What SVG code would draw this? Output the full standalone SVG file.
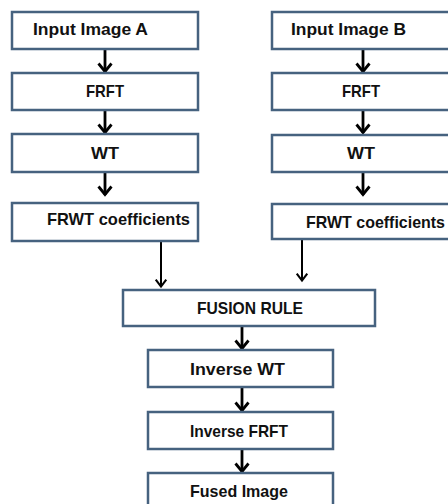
<svg xmlns="http://www.w3.org/2000/svg" width="448" height="504" viewBox="0 0 448 504">
<defs>
<style>
.box{fill:#ffffff;stroke:#46627f;stroke-width:2.5}
.t{font-family:"Liberation Sans",Arial,sans-serif;font-weight:bold;font-size:17px;fill:#111111}
.c{text-anchor:middle}
.a{stroke:#000000;stroke-width:2.8;fill:none}
.l{stroke:#000000;stroke-width:2;fill:none}
</style>
<marker id="h" viewBox="0 0 12 16" refX="10.5" refY="8" markerWidth="12" markerHeight="16" markerUnits="userSpaceOnUse" orient="auto">
<path d="M2,1.5 L10,8 L2,14.5" fill="none" stroke="#000" stroke-width="2.8"/>
</marker>
<marker id="h2" viewBox="0 0 12 16" refX="10.5" refY="8" markerWidth="11" markerHeight="14" markerUnits="userSpaceOnUse" orient="auto">
<path d="M2,2 L10,8 L2,14" fill="none" stroke="#000" stroke-width="2.4"/>
</marker>
</defs>
<rect width="448" height="504" fill="#ffffff"/>
<g id="connectors">
<path class="a" d="M105,49 V72" marker-end="url(#h)"/>
<path class="a" d="M105,110 V133" marker-end="url(#h)"/>
<path class="a" d="M105,172 V195" marker-end="url(#h)"/>
<path class="a" d="M363,49 V72" marker-end="url(#h)"/>
<path class="a" d="M363,110 V133" marker-end="url(#h)"/>
<path class="a" d="M363,172 V195" marker-end="url(#h)"/>
<path class="l" d="M161,241 V287" marker-end="url(#h2)"/>
<path class="l" d="M302,239 V281" marker-end="url(#h2)"/>
<path class="a" d="M242,326 V349" marker-end="url(#h)"/>
<path class="a" d="M242,387 V411" marker-end="url(#h)"/>
<path class="a" d="M242,449 V472" marker-end="url(#h)"/>
</g>
<g id="inputA"><rect class="box" x="12" y="12" width="186" height="37"/><text class="t" x="33" y="35" textLength="115" lengthAdjust="spacingAndGlyphs">Input Image  A</text></g>
<g id="frftA"><rect class="box" x="12" y="73" width="186" height="37"/><text class="t c" x="105" y="97" textLength="38" lengthAdjust="spacingAndGlyphs">FRFT</text></g>
<g id="wtA"><rect class="box" x="12" y="134" width="186" height="38"/><text class="t c" x="105" y="159" textLength="28" lengthAdjust="spacingAndGlyphs">WT</text></g>
<g id="frwtA"><rect class="box" x="12" y="203" width="186" height="38"/><text class="t" x="47" y="225" textLength="143" lengthAdjust="spacingAndGlyphs">FRWT coefficients</text></g>
<g id="inputB"><rect class="box" x="272" y="12" width="190" height="37"/><text class="t" x="291" y="35" textLength="115" lengthAdjust="spacingAndGlyphs">Input Image  B</text></g>
<g id="frftB"><rect class="box" x="272" y="73" width="190" height="37"/><text class="t c" x="361" y="97" textLength="38" lengthAdjust="spacingAndGlyphs">FRFT</text></g>
<g id="wtB"><rect class="box" x="272" y="135" width="190" height="37"/><text class="t c" x="361" y="159" textLength="28" lengthAdjust="spacingAndGlyphs">WT</text></g>
<g id="frwtB"><rect class="box" x="272" y="204" width="190" height="35"/><text class="t" x="306" y="228" textLength="139" lengthAdjust="spacingAndGlyphs">FRWT coefficients</text></g>
<g id="fusion"><rect class="box" x="123" y="290" width="252" height="36"/><text class="t" x="197" y="314" textLength="106" lengthAdjust="spacingAndGlyphs">FUSION RULE</text></g>
<g id="invwt"><rect class="box" x="148" y="350" width="185" height="37"/><text class="t" x="190" y="375" textLength="95" lengthAdjust="spacingAndGlyphs">Inverse  WT</text></g>
<g id="invfrft"><rect class="box" x="148" y="412" width="185" height="37"/><text class="t" x="190" y="437" textLength="98" lengthAdjust="spacingAndGlyphs">Inverse FRFT</text></g>
<g id="fused"><rect class="box" x="148" y="473" width="185" height="45"/><text class="t" x="190" y="497" textLength="98" lengthAdjust="spacingAndGlyphs">Fused Image</text></g>
</svg>
